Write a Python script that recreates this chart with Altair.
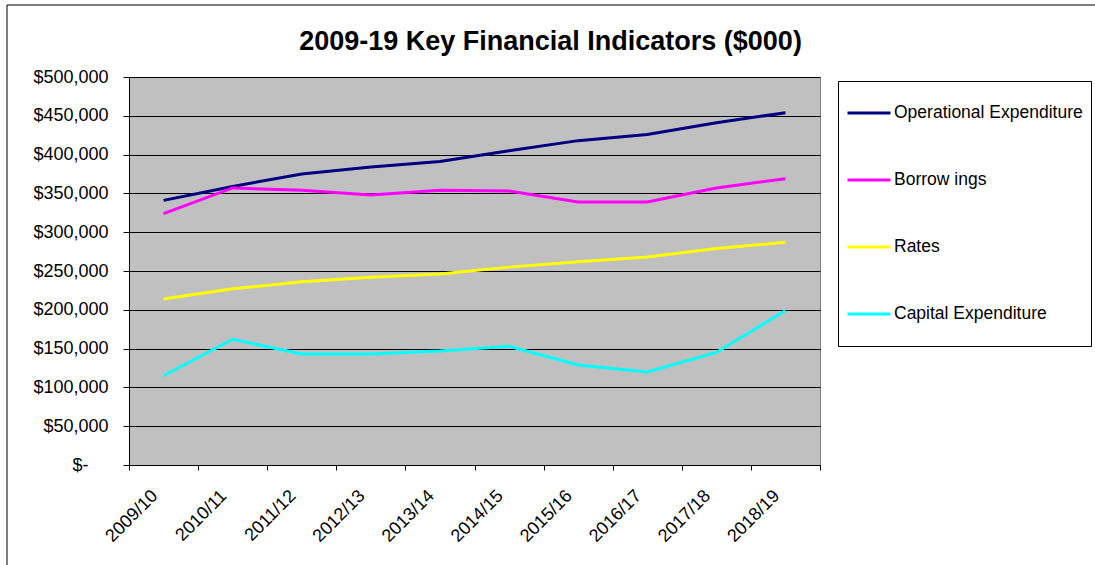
import altair as alt
import pandas as pd

years = ["2009/10", "2010/11", "2011/12", "2012/13", "2013/14",
         "2014/15", "2015/16", "2016/17", "2017/18", "2018/19"]
series_names = ["Operational Expenditure", "Borrow ings", "Rates", "Capital Expenditure"]
series_colors = ["#000080", "#FF00FF", "#FFFF00", "#00FFFF"]

operational = [341000, 359000, 375000, 384000, 391000, 405000, 418000, 426000, 441000, 454000]
borrowings = [324000, 357000, 354000, 348000, 354000, 353000, 339000, 339000, 357000, 369000]
rates = [214000, 227000, 236000, 242000, 246000, 255000, 262000, 268000, 279000, 287000]
capital = [115000, 162000, 143000, 143000, 147000, 153000, 129000, 120000, 145000, 199000]

y_ticks = [0, 50000, 100000, 150000, 200000, 250000, 300000, 350000, 400000, 450000, 500000]

rows = []
for name, vals in zip(series_names, [operational, borrowings, rates, capital]):
    for yr, v in zip(years, vals):
        rows.append({"year": yr, "series": name, "value": v})
df = pd.DataFrame(rows)

FONT = "Liberation Sans"

lines = alt.Chart(df).mark_line(strokeWidth=3).encode(
    x=alt.X("year:N", sort=years, bandPosition=0.5,
            scale=alt.Scale(type="band", paddingInner=0, paddingOuter=0),
            axis=alt.Axis(title=None, labelAngle=-45, labelAlign="right", labelBaseline="middle",
                          tickBand="extent", tickSize=5, tickColor="black", domainColor="black",
                          labelFont=FONT, labelFontSize=18, labelColor="black", labelPadding=23,
                          labelOffset=-9, grid=False)),
    y=alt.Y("value:Q", scale=alt.Scale(domain=[0, 500000], nice=False, zero=True),
            axis=alt.Axis(title=None, values=y_ticks, tickSize=6, tickColor="black",
                          domainColor="black", gridColor="black", gridWidth=1, gridOpacity=1,
                          labelFont=FONT, labelFontSize=18, labelColor="black",
                          labelPadding=alt.condition("datum.value == 0", alt.value(35), alt.value(15)),
                          labelExpr="datum.value == 0 ? '$-' : '$' + format(datum.value, ',')")),
    color=alt.Color("series:N", sort=series_names,
                    scale=alt.Scale(domain=series_names, range=series_colors),
                    legend=alt.Legend(title=None, orient="none", legendX=709, legendY=4,
                                      direction="vertical",
                                      symbolType="stroke", symbolSize=1849, symbolStrokeWidth=3,
                                      labelFont=FONT, labelFontSize=17.5, labelColor="black",
                                      labelOffset=2, rowPadding=19, padding=8, clipHeight=48,
                                      strokeColor="black", fillColor="white", labelLimit=400)),
)

frame = alt.Chart(alt.Data(values=[{}])).mark_rect(filled=False, stroke="black", strokeWidth=1).encode(
    x=alt.value(-122), x2=alt.value(1100), y=alt.value(-72), y2=alt.value(600)
)

chart = alt.layer(frame, lines).properties(
    width=691, height=388,
    padding={"left": 129, "top": 77, "right": 275, "bottom": 100},
    autosize=alt.AutoSizeParams(type="none"),
    background="white",
    title=alt.TitleParams(text="2009-19 Key Financial Indicators ($000)", font=FONT, fontSize=27,
                          fontWeight="bold", color="black", anchor="middle", dx=76, dy=55),
).configure_view(fill="#C0C0C0", stroke="#808080", strokeWidth=1)

chart.save("out.html", embed_options={"renderer": "svg", "actions": False})
